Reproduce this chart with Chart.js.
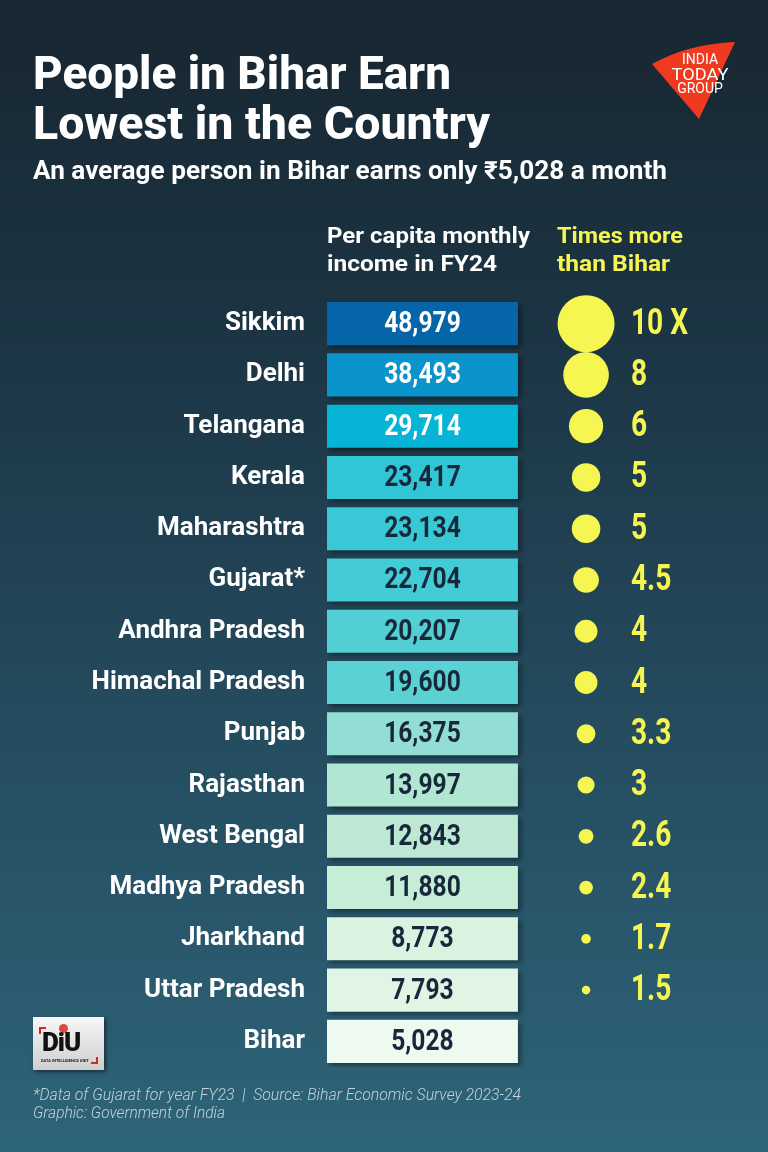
<!DOCTYPE html>
<html><head><meta charset="utf-8">
<script src="https://cdn.jsdelivr.net/npm/chart.js@4.4.1/dist/chart.umd.min.js"></script>
<style>
html,body{margin:0;padding:0;width:768px;height:1152px;overflow:hidden}
body{background:linear-gradient(180deg,#172631 0%,#1c3544 30%,#244b5e 62%,#2e6479 100%);font-family:Roboto,"Noto Sans",sans-serif;position:relative}
#c{position:absolute;left:0;top:0}
.t{position:absolute;white-space:nowrap;transform-origin:0 0;line-height:1;color:#fff}
.title{font-size:46px;font-weight:800;left:33px}
.sub{font-size:25px;font-weight:700;left:33px}
.hd{font-size:22px;font-weight:700}
.yl{color:#f6f652}
.foot{font-size:16px;font-weight:300;font-style:italic;color:#c3d2d9;left:33px}
#diu{position:absolute;left:33px;top:1017px;width:71px;height:53px;background:linear-gradient(180deg,#f7f7f7,#cfcfcf);box-shadow:2px 2px 4px rgba(0,0,0,.5)}
#diu .d{position:absolute;left:9px;top:12px;font:900 26px Roboto,sans-serif;color:#111;letter-spacing:-1px;line-height:1}
#diu .s{position:absolute;left:8px;top:41px;font:700 4px Roboto,sans-serif;color:#222;white-space:nowrap}
#diu .b1{position:absolute;left:6px;top:10px;width:5px;height:5px;border-left:2px solid #d22;border-top:2px solid #d22}
#diu .b2{position:absolute;right:6px;bottom:6px;width:5px;height:5px;border-right:2px solid #d22;border-bottom:2px solid #d22}
#diu .dot{position:absolute;left:26px;top:7px;width:9px;height:9px;border-radius:50%;background:#e0493a}
</style></head><body>
<canvas id="c" width="768" height="1152"></canvas>

<div class="t title" data-w="418" style="top:50px">People in Bihar Earn</div>
<div class="t title" data-w="457" style="top:100px">Lowest in the Country</div>
<div class="t sub" data-w="634" style="top:158px">An average person in Bihar earns only ₹5,028 a month</div>
<div class="t hd" data-w="203" style="left:327px;top:225px">Per capita monthly</div>
<div class="t hd" data-w="170" style="left:327px;top:253px">income in FY24</div>
<div class="t hd yl" data-w="126" style="left:557px;top:225px">Times more</div>
<div class="t hd yl" data-w="113" style="left:557px;top:253px">than Bihar</div>
<div class="t foot" data-w="488" style="top:1087px">*Data of Gujarat for year FY23&nbsp;&nbsp;|&nbsp;&nbsp;Source: Bihar Economic Survey 2023-24</div>
<div class="t foot" data-w="192" style="top:1105px">Graphic: Government of India</div>

<svg style="position:absolute;left:0;top:0" width="768" height="140">
  <path d="M652 64 Q688 44 735 42 L699 119 Z" fill="#f03a1f"/>
  <text x="700" y="64" fill="#fff" font-family="Roboto" font-size="14" text-anchor="middle">INDIA</text>
  <text x="700" y="80" fill="#fff" font-family="Roboto" font-size="17" text-anchor="middle" textLength="57" lengthAdjust="spacingAndGlyphs">TODAY</text>
  <text x="700" y="93" fill="#fff" font-family="Roboto" font-size="14" text-anchor="middle">GROUP</text>
</svg>

<div id="diu"><div class="b1"></div><div class="b2"></div><div class="dot"></div><div class="d">DiU</div><div class="s">DATA INTELLIGENCE UNIT</div></div>

<script>
// ---- data ----
const states = ["Sikkim","Delhi","Telangana","Kerala","Maharashtra","Gujarat*","Andhra Pradesh","Himachal Pradesh","Punjab","Rajasthan","West Bengal","Madhya Pradesh","Jharkhand","Uttar Pradesh","Bihar"];
const incomes = [48979,38493,29714,23417,23134,22704,20207,19600,16375,13997,12843,11880,8773,7793,5028];
const timesMore = [10,8,6,5,5,4.5,4,4,3.3,3,2.6,2.4,1.7,1.5,null];
const timesLabels = ["10 X","8","6","5","5","4.5","4","4","3.3","3","2.6","2.4","1.7","1.5",""];

// ---- styles ----
const cellColors = ["#0565a8","#0b93cb","#06b4d6","#30c6d6","#39c9d6","#43cbd6","#52cfd4","#5bd1d4","#93ded4","#b1e6d3","#bde9d4","#c6edd6","#d9f3e0","#e1f5e5","#eef9f0"];
const YELLOW = "#f6f652";
const CELL_END = 1, BUBBLE_COL = 1.357, LABEL_COL = 1.592, R_PER_X = 2.85;

function isDark(hex){const n=parseInt(hex.slice(1),16);const r=n>>16,g=(n>>8)&255,b=n&255;return (0.299*r+0.587*g+0.114*b)<150;}

const bubbleIdx = [];
const bubbleData = [];
timesMore.forEach((v,i)=>{ if(v!=null){ bubbleIdx.push(i); bubbleData.push({x:BUBBLE_COL,y:states[i],r:v*R_PER_X}); }});

function condensed(ctx,text,x,y,sx,align){
  ctx.save(); ctx.translate(x,y); ctx.scale(sx,1); ctx.textAlign=align; ctx.fillText(text,0,0); ctx.restore();
}

const plugin = {
  id:'cells',
  beforeDatasetDraw(chart,args){ if(args.index===0){const c=chart.ctx;c.save();c.shadowColor='rgba(0,0,0,0.4)';c.shadowOffsetX=3;c.shadowOffsetY=3;c.shadowBlur=5;} },
  afterDatasetDraw(chart,args){ if(args.index===0){chart.ctx.restore();} },
  afterDatasetsDraw(chart){
    const ctx = chart.ctx;
    ctx.save();
    ctx.textBaseline='middle';
    ctx.font='700 30px Roboto';
    chart.getDatasetMeta(0).data.forEach((bar,i)=>{
      const cx=(bar.x+bar.base)/2;
      ctx.fillStyle = isDark(cellColors[i]) ? '#ffffff' : '#17283a';
      condensed(ctx, incomes[i].toLocaleString('en-US'), cx, bar.y+1, 0.82, 'center');
    });
    ctx.font='700 36px Roboto';
    ctx.fillStyle=YELLOW;
    const lx = chart.scales.x.getPixelForValue(LABEL_COL);
    chart.getDatasetMeta(1).data.forEach((pt,k)=>{
      condensed(ctx, timesLabels[bubbleIdx[k]], lx, pt.y+1, 0.78, 'left');
    });
    ctx.restore();
  }
};

new Chart(document.getElementById('c'), {
  type:'bar',
  data:{
    labels: states,
    datasets:[
      {type:'bar', data: states.map(()=>[0,CELL_END]), backgroundColor: cellColors, borderWidth:0, barPercentage:0.84, categoryPercentage:1},
      {type:'bubble', data: bubbleData, backgroundColor: YELLOW, borderWidth:0, clip:false}
    ]
  },
  options:{
    indexAxis:'y',
    responsive:false, animation:false, devicePixelRatio:1,
    layout:{autoPadding:false,padding:{left:0,right:21,top:298,bottom:85}},
    plugins:{legend:{display:false},tooltip:{enabled:false}},
    scales:{
      x:{type:'linear',min:0,max:2.2,display:false},
      y:{type:'category',offset:true,
         grid:{display:false,drawTicks:false},border:{display:false},
         ticks:{color:'#ffffff',padding:22,font:{family:'Roboto',weight:'bold',size:26}},
         afterFit(s){s.width=327;}}
    }
  },
  plugins:[plugin]
});

function fit(){
  document.querySelectorAll('[data-w]').forEach(el=>{
    el.style.transform='none';
    const w=el.getBoundingClientRect().width;
    el.style.transform='scaleX('+(parseFloat(el.dataset.w)/w)+')';
  });
}
fit();
if(document.fonts&&document.fonts.ready){document.fonts.ready.then(fit);}
</script>
</body></html>
